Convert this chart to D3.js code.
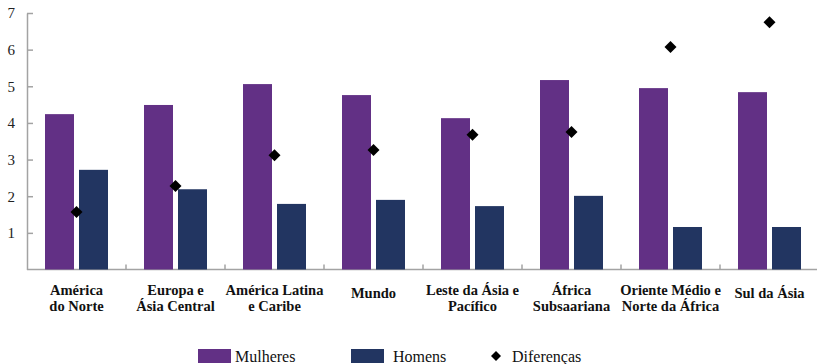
<!DOCTYPE html>
<html>
<head>
<meta charset="utf-8">
<script src="https://cdn.jsdelivr.net/npm/d3@7"></script>
<style>
  body { margin: 0; background: #fff; }
  svg text { font-family: "Liberation Serif", "DejaVu Serif", serif; }
</style>
</head>
<body>
<div id="chart"></div>
<script>
// regions, as they wrap in the picture
var categories = [
  ["América", "do Norte"],
  ["Europa e", "Ásia Central"],
  ["América Latina", "e Caribe"],
  ["Mundo"],
  ["Leste da Ásia e", "Pacífico"],
  ["África", "Subsaariana"],
  ["Oriente Médio e", "Norte da África"],
  ["Sul da Ásia"]
];
var mulheres   = [4.24, 4.49, 5.06, 4.76, 4.13, 5.17, 4.95, 4.84];
var homens     = [2.72, 2.19, 1.79, 1.90, 1.73, 2.01, 1.16, 1.16];
var diferencas = [1.57, 2.28, 3.12, 3.26, 3.68, 3.75, 6.07, 6.75];
var yTicks = [1, 2, 3, 4, 5, 6, 7];
var seriesNames = ["Mulheres", "Homens", "Diferenças"];
var colors = ["#623085", "#223561", "#000000"];

var width = 817, height = 364;
var plotLeft = 27, plotRight = 819, plotTop = 13, plotBottom = 269.5;

var svg = d3.select("#chart").append("svg")
  .attr("width", width)
  .attr("height", height);

var keys = categories.map(function(c){ return c.join(" "); });

var x0 = d3.scaleBand().domain(keys).range([plotLeft, plotRight]);
var x1 = d3.scaleBand().domain(["m", "h"]).range([18, 81]).paddingInner(0.147);
var y = d3.scaleLinear().domain([0, 7]).range([plotBottom, plotTop]);

// y axis, ticks pointing inward
var yAxis = svg.append("g")
  .attr("transform", "translate(" + plotLeft + ",0)")
  .call(d3.axisLeft(y).tickValues(yTicks).tickFormat(d3.format("d"))
    .tickSizeInner(-6).tickSizeOuter(0).tickPadding(12));
yAxis.select(".domain").attr("stroke", "#a3a3a3").attr("stroke-width", 1.5);
yAxis.selectAll(".tick line").attr("stroke", "#a3a3a3").attr("stroke-width", 1.5);
yAxis.selectAll(".tick text")
  .style("font-size", "15px")
  .style("font-family", "'Liberation Serif', serif")
  .attr("fill", "#222");

// x axis line + separators
svg.append("line")
  .attr("x1", plotLeft).attr("x2", width)
  .attr("y1", plotBottom).attr("y2", plotBottom)
  .attr("stroke", "#a3a3a3").attr("stroke-width", 1.5);

svg.selectAll(".sep")
  .data(keys.slice(1))
  .enter().append("line")
  .attr("x1", function(d){ return x0(d); })
  .attr("x2", function(d){ return x0(d); })
  .attr("y1", plotBottom).attr("y2", plotBottom - 5)
  .attr("stroke", "#a3a3a3").attr("stroke-width", 1.5);

// bars
var groups = svg.selectAll(".grp")
  .data(keys)
  .enter().append("g")
  .attr("transform", function(d){ return "translate(" + x0(d) + ",0)"; });

groups.append("rect")
  .attr("x", x1("m"))
  .attr("width", x1.bandwidth())
  .attr("y", function(d, i){ return y(mulheres[i]); })
  .attr("height", function(d, i){ return plotBottom - y(mulheres[i]); })
  .attr("fill", colors[0]);

groups.append("rect")
  .attr("x", x1("h"))
  .attr("width", x1.bandwidth())
  .attr("y", function(d, i){ return y(homens[i]); })
  .attr("height", function(d, i){ return plotBottom - y(homens[i]); })
  .attr("fill", colors[1]);

// diamonds
var diamond = d3.symbol().type(d3.symbolSquare).size(72);
svg.selectAll(".dif")
  .data(keys)
  .enter().append("path")
  .attr("d", diamond)
  .attr("transform", function(d, i){
    return "translate(" + (x0(d) + x0.bandwidth() / 2) + "," + y(diferencas[i]) + ") rotate(45)";
  })
  .attr("fill", colors[2]);

// category labels
var labels = svg.selectAll(".cat")
  .data(categories)
  .enter().append("text")
  .attr("text-anchor", "middle")
  .attr("fill", "#111")
  .style("font-size", "14.5px")
  .style("font-weight", "bold")
  .attr("transform", function(d, i){
    var yy = d.length == 1 ? 298 : 295;
    return "translate(" + (x0(keys[i]) + x0.bandwidth() / 2) + "," + yy + ")";
  });
labels.selectAll("tspan")
  .data(function(d){ return d; })
  .enter().append("tspan")
  .attr("x", 0)
  .attr("dy", function(d, j){ return j == 0 ? 0 : 16; })
  .text(function(d){ return d; });

// legend
var legX = [198, 351, 496];
var legend = svg.selectAll(".leg")
  .data(seriesNames)
  .enter().append("g")
  .attr("transform", function(d, i){ return "translate(" + legX[i] + ",356)"; });

legend.filter(function(d, i){ return i < 2; })
  .append("rect")
  .attr("x", 0).attr("y", -7)
  .attr("width", 33).attr("height", 14)
  .attr("fill", function(d, i){ return colors[i]; });

legend.filter(function(d, i){ return i == 2; })
  .append("path")
  .attr("d", d3.symbol().type(d3.symbolSquare).size(50))
  .attr("transform", "rotate(45)")
  .attr("fill", colors[2]);

legend.append("text")
  .attr("x", function(d, i){ return i < 2 ? [37, 42][i] : 16; })
  .attr("y", 6)
  .style("font-size", "16px")
  .attr("fill", "#111")
  .text(function(d){ return d; });
</script>
</body>
</html>
